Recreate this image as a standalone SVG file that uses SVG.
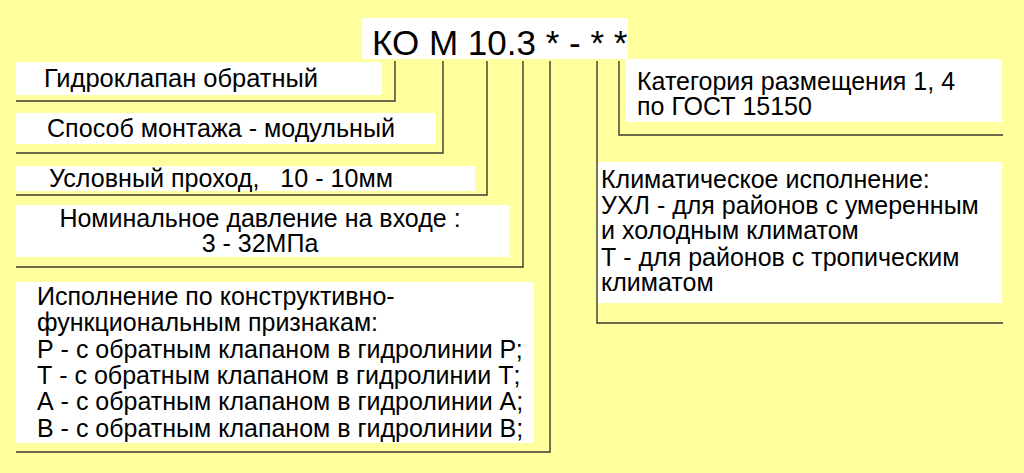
<svg xmlns="http://www.w3.org/2000/svg" width="1024" height="473" viewBox="0 0 1024 473">
<style>
.bg{fill:#FFFF9E}
.box{fill:#FFFFFF}
.t{font-family:"Liberation Sans",Arial,sans-serif;font-size:25px;fill:#000}
.title{font-family:"Liberation Sans",Arial,sans-serif;font-size:35px;fill:#000}
.c{fill:none;stroke:#3a3a30;stroke-width:1.4}
</style>
<rect class="bg" x="0" y="0" width="1024" height="473"/>
<g id="title">
<rect class="box" x="362" y="18" width="266" height="41"/>
<text class="title" x="372" y="55">КО М 10.3 * - * *</text>
</g>
<g id="n1">
<rect class="box" x="16" y="62" width="366" height="33"/>
<text class="t" x="44" y="87" textLength="274" lengthAdjust="spacingAndGlyphs">Гидроклапан обратный</text>
</g>
<g id="n2">
<rect class="box" x="16" y="113" width="420" height="31"/>
<text class="t" x="47" y="137" textLength="348" lengthAdjust="spacingAndGlyphs">Способ монтажа - модульный</text>
</g>
<g id="n3">
<rect class="box" x="16" y="166" width="459" height="25"/>
<text class="t" x="49" y="187" xml:space="preserve" textLength="344" lengthAdjust="spacingAndGlyphs">Условный проход,   10 - 10мм</text>
</g>
<g id="n4">
<rect class="box" x="16" y="205" width="493" height="52"/>
<text class="t" x="260" y="227" text-anchor="middle">Номинальное давление на входе :</text>
<text class="t" x="260" y="252" text-anchor="middle">3 - 32МПа</text>
</g>
<g id="n5">
<rect class="box" x="16" y="282" width="518" height="161"/>
<text class="t" x="37" y="305">Исполнение по конструктивно-</text>
<text class="t" x="37" y="331">функциональным признакам:</text>
<text class="t" x="37" y="358">Р - с обратным клапаном в гидролинии Р;</text>
<text class="t" x="37" y="384">Т - с обратным клапаном в гидролинии Т;</text>
<text class="t" x="37" y="410">А - с обратным клапаном в гидролинии А;</text>
<text class="t" x="37" y="437">В - с обратным клапаном в гидролинии В;</text>
</g>
<g id="n6">
<rect class="box" x="626" y="59" width="376" height="63"/>
<text class="t" x="637" y="90">Категория размещения 1, 4</text>
<text class="t" x="637" y="115">по ГОСТ 15150</text>
</g>
<g id="n7">
<rect class="box" x="597" y="162" width="405" height="141"/>
<text class="t" x="601" y="188">Климатическое исполнение:</text>
<text class="t" x="601" y="214">УХЛ - для районов с умеренным</text>
<text class="t" x="601" y="239">и холодным климатом</text>
<text class="t" x="601" y="266">Т - для районов с тропическим</text>
<text class="t" x="601" y="291">климатом</text>
</g>
<g id="connectors">
<polyline class="c" points="395,61 395,101 16,101"/>
<polyline class="c" points="443,61 443,153 16,153"/>
<polyline class="c" points="487,61 487,195 16,195"/>
<polyline class="c" points="523,61 523,267 16,267"/>
<polyline class="c" points="550,61 550,452 16,452"/>
<polyline class="c" points="619,61 619,135 1003,135"/>
<polyline class="c" points="597,61 597,323 1003,323"/>
</g>
</svg>
